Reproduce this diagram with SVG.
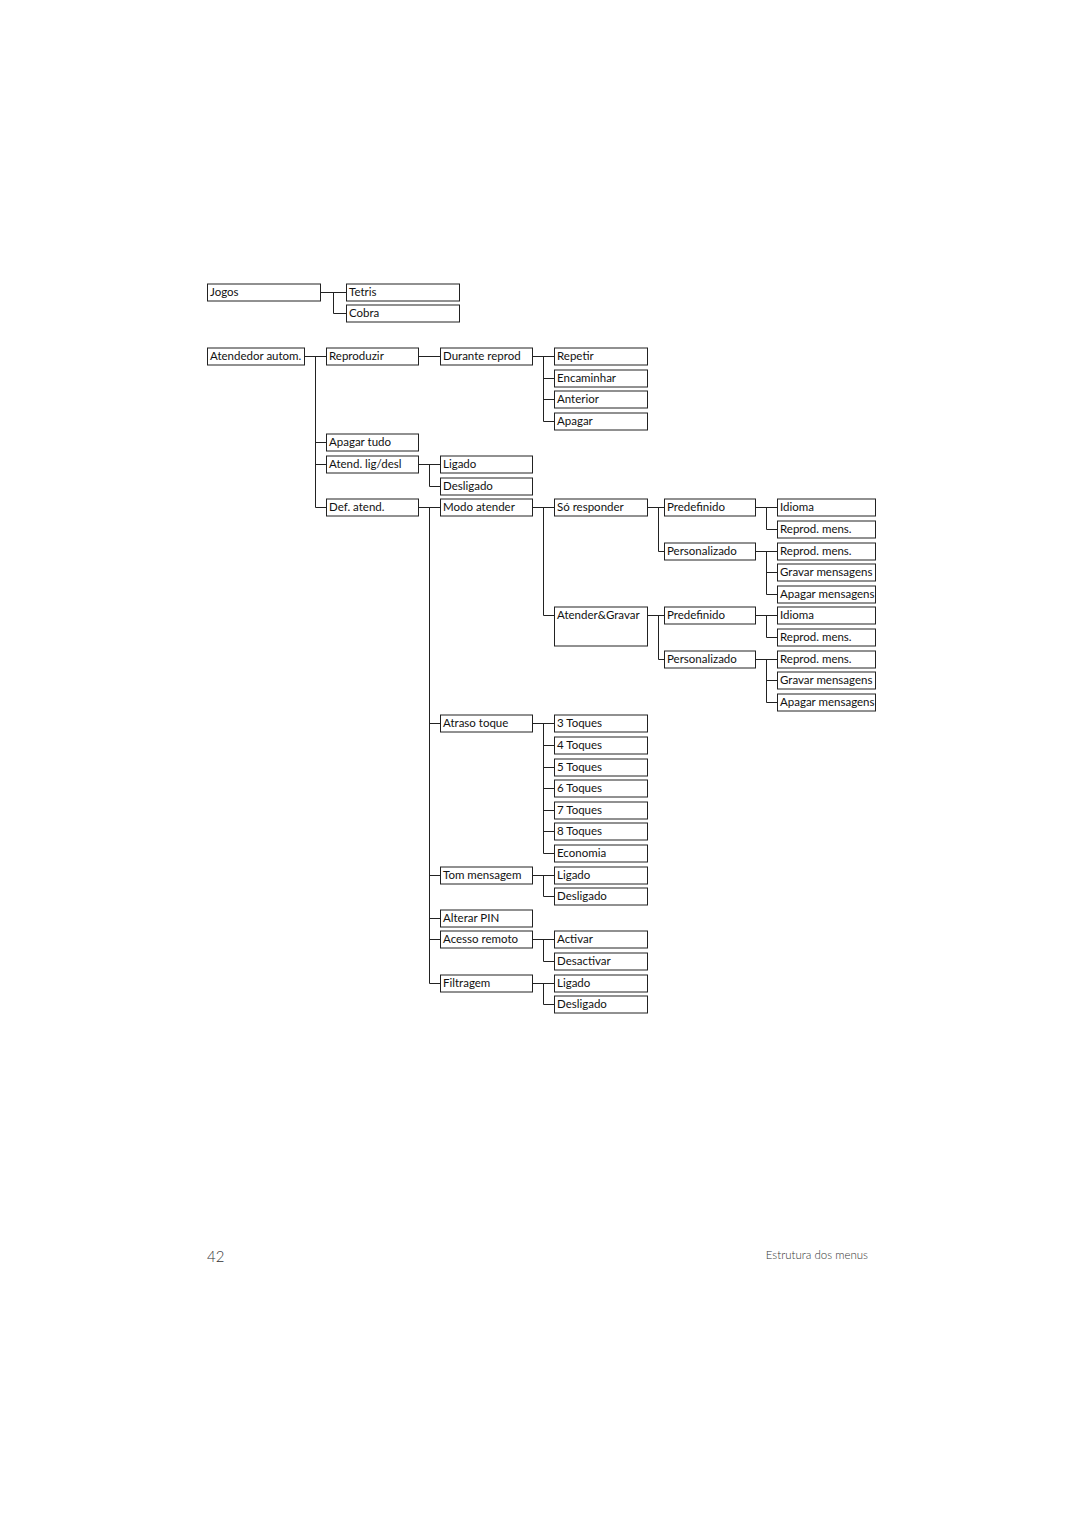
<svg xmlns="http://www.w3.org/2000/svg" width="1080" height="1528" viewBox="0 0 1080 1528">
<style>
.b{fill:#fff;stroke:#222;stroke-width:1}
.t{font-family:Lato,"Open Sans","Liberation Sans",sans-serif;font-size:11.5px;fill:#111}
.c{fill:none;stroke:#222;stroke-width:1}
.f{font-family:Lato,"Open Sans","Liberation Sans",sans-serif;fill:#333;font-weight:300}
</style>
<rect width="1080" height="1528" fill="#fff"/>
<g id="connectors" class="c">
<path d="M320 292.5H346M333.5 292.5V313.5H346"/>
<path d="M304 356.5H326M315.5 356.5V507.5H326M315.5 442.5H326M315.5 464.5H326"/>
<path d="M418 356.5H440"/>
<path d="M532 356.5H554M543.5 356.5V421.5H554M543.5 378.5H554M543.5 399.5H554"/>
<path d="M418 464.5H440M429.5 464.5V486.5H440"/>
<path d="M418 507.5H440M429.5 507.5V983.5H440M429.5 723.5H440M429.5 875.5H440M429.5 918.5H440M429.5 939.5H440"/>
<path d="M532 507.5H554M543.5 507.5V615.5H554"/>
<path d="M647 507.5H664M658.5 507.5V551.5H664"/>
<path d="M755 507.5H777M766.5 507.5V529.5H777"/>
<path d="M755 551.5H777M766.5 551.5V594.5H777M766.5 572.5H777"/>
<path d="M647 615.5H664M658.5 615.5V659.5H664"/>
<path d="M755 615.5H777M766.5 615.5V637.5H777"/>
<path d="M755 659.5H777M766.5 659.5V702.5H777M766.5 680.5H777"/>
<path d="M532 723.5H554M543.5 723.5V853.5H554M543.5 745.5H554M543.5 767.5H554M543.5 788.5H554M543.5 810.5H554M543.5 831.5H554"/>
<path d="M532 875.5H554M543.5 875.5V896.5H554"/>
<path d="M532 939.5H554M543.5 939.5V961.5H554"/>
<path d="M532 983.5H554M543.5 983.5V1004.5H554"/>
</g>
<g id="n-jogos"><rect class="b" x="207.5" y="284" width="113" height="17"/><text class="t" x="210" y="296">Jogos</text></g>
<g id="n-tetris"><rect class="b" x="346.5" y="284" width="113" height="17"/><text class="t" x="349" y="296">Tetris</text></g>
<g id="n-cobra"><rect class="b" x="346.5" y="305" width="113" height="17"/><text class="t" x="349" y="317">Cobra</text></g>
<g id="n-atendedor"><rect class="b" x="207.5" y="348" width="97" height="17"/><text class="t" x="210" y="360">Atendedor autom.</text></g>
<g id="n-reproduzir"><rect class="b" x="326.5" y="348" width="92" height="17"/><text class="t" x="329" y="360">Reproduzir</text></g>
<g id="n-durante"><rect class="b" x="440.5" y="348" width="92" height="17"/><text class="t" x="443" y="360">Durante reprod</text></g>
<g id="n-repetir"><rect class="b" x="554.5" y="348" width="93" height="17"/><text class="t" x="557" y="360">Repetir</text></g>
<g id="n-encaminhar"><rect class="b" x="554.5" y="370" width="93" height="17"/><text class="t" x="557" y="382">Encaminhar</text></g>
<g id="n-anterior"><rect class="b" x="554.5" y="391" width="93" height="17"/><text class="t" x="557" y="403">Anterior</text></g>
<g id="n-apagar"><rect class="b" x="554.5" y="413" width="93" height="17"/><text class="t" x="557" y="425">Apagar</text></g>
<g id="n-apagartudo"><rect class="b" x="326.5" y="434" width="92" height="17"/><text class="t" x="329" y="446">Apagar tudo</text></g>
<g id="n-atendlig"><rect class="b" x="326.5" y="456" width="92" height="17"/><text class="t" x="329" y="468">Atend. lig/desl</text></g>
<g id="n-ligado1"><rect class="b" x="440.5" y="456" width="92" height="17"/><text class="t" x="443" y="468">Ligado</text></g>
<g id="n-desligado1"><rect class="b" x="440.5" y="478" width="92" height="17"/><text class="t" x="443" y="490">Desligado</text></g>
<g id="n-defatend"><rect class="b" x="326.5" y="499" width="92" height="17"/><text class="t" x="329" y="511">Def. atend.</text></g>
<g id="n-modo"><rect class="b" x="440.5" y="499" width="92" height="17"/><text class="t" x="443" y="511">Modo atender</text></g>
<g id="n-soresp"><rect class="b" x="554.5" y="499" width="93" height="17"/><text class="t" x="557" y="511">Só responder</text></g>
<g id="n-predef1"><rect class="b" x="664.5" y="499" width="91" height="17"/><text class="t" x="667" y="511">Predefinido</text></g>
<g id="n-idioma1"><rect class="b" x="777.5" y="499" width="98" height="17"/><text class="t" x="780" y="511">Idioma</text></g>
<g id="n-reprod1"><rect class="b" x="777.5" y="521" width="98" height="17"/><text class="t" x="780" y="533">Reprod. mens.</text></g>
<g id="n-pers1"><rect class="b" x="664.5" y="543" width="91" height="17"/><text class="t" x="667" y="555">Personalizado</text></g>
<g id="n-reprod2"><rect class="b" x="777.5" y="543" width="98" height="17"/><text class="t" x="780" y="555">Reprod. mens.</text></g>
<g id="n-gravar1"><rect class="b" x="777.5" y="564" width="98" height="17"/><text class="t" x="780" y="576">Gravar mensagens</text></g>
<g id="n-apagarm1"><rect class="b" x="777.5" y="586" width="98" height="17"/><text class="t" x="780" y="598">Apagar mensagens</text></g>
<g id="n-atgrav"><rect class="b" x="554.5" y="607" width="93" height="39"/><text class="t" x="557" y="619">Atender&amp;Gravar</text></g>
<g id="n-predef2"><rect class="b" x="664.5" y="607" width="91" height="17"/><text class="t" x="667" y="619">Predefinido</text></g>
<g id="n-idioma2"><rect class="b" x="777.5" y="607" width="98" height="17"/><text class="t" x="780" y="619">Idioma</text></g>
<g id="n-reprod3"><rect class="b" x="777.5" y="629" width="98" height="17"/><text class="t" x="780" y="641">Reprod. mens.</text></g>
<g id="n-pers2"><rect class="b" x="664.5" y="651" width="91" height="17"/><text class="t" x="667" y="663">Personalizado</text></g>
<g id="n-reprod4"><rect class="b" x="777.5" y="651" width="98" height="17"/><text class="t" x="780" y="663">Reprod. mens.</text></g>
<g id="n-gravar2"><rect class="b" x="777.5" y="672" width="98" height="17"/><text class="t" x="780" y="684">Gravar mensagens</text></g>
<g id="n-apagarm2"><rect class="b" x="777.5" y="694" width="98" height="17"/><text class="t" x="780" y="706">Apagar mensagens</text></g>
<g id="n-atraso"><rect class="b" x="440.5" y="715" width="92" height="17"/><text class="t" x="443" y="727">Atraso toque</text></g>
<g id="n-t3"><rect class="b" x="554.5" y="715" width="93" height="17"/><text class="t" x="557" y="727">3 Toques</text></g>
<g id="n-t4"><rect class="b" x="554.5" y="737" width="93" height="17"/><text class="t" x="557" y="749">4 Toques</text></g>
<g id="n-t5"><rect class="b" x="554.5" y="759" width="93" height="17"/><text class="t" x="557" y="771">5 Toques</text></g>
<g id="n-t6"><rect class="b" x="554.5" y="780" width="93" height="17"/><text class="t" x="557" y="792">6 Toques</text></g>
<g id="n-t7"><rect class="b" x="554.5" y="802" width="93" height="17"/><text class="t" x="557" y="814">7 Toques</text></g>
<g id="n-t8"><rect class="b" x="554.5" y="823" width="93" height="17"/><text class="t" x="557" y="835">8 Toques</text></g>
<g id="n-economia"><rect class="b" x="554.5" y="845" width="93" height="17"/><text class="t" x="557" y="857">Economia</text></g>
<g id="n-tom"><rect class="b" x="440.5" y="867" width="92" height="17"/><text class="t" x="443" y="879">Tom mensagem</text></g>
<g id="n-ligado2"><rect class="b" x="554.5" y="867" width="93" height="17"/><text class="t" x="557" y="879">Ligado</text></g>
<g id="n-desligado2"><rect class="b" x="554.5" y="888" width="93" height="17"/><text class="t" x="557" y="900">Desligado</text></g>
<g id="n-pin"><rect class="b" x="440.5" y="910" width="92" height="17"/><text class="t" x="443" y="922">Alterar PIN</text></g>
<g id="n-acesso"><rect class="b" x="440.5" y="931" width="92" height="17"/><text class="t" x="443" y="943">Acesso remoto</text></g>
<g id="n-activar"><rect class="b" x="554.5" y="931" width="93" height="17"/><text class="t" x="557" y="943">Activar</text></g>
<g id="n-desactivar"><rect class="b" x="554.5" y="953" width="93" height="17"/><text class="t" x="557" y="965">Desactivar</text></g>
<g id="n-filtragem"><rect class="b" x="440.5" y="975" width="92" height="17"/><text class="t" x="443" y="987">Filtragem</text></g>
<g id="n-ligado3"><rect class="b" x="554.5" y="975" width="93" height="17"/><text class="t" x="557" y="987">Ligado</text></g>
<g id="n-desligado3"><rect class="b" x="554.5" y="996" width="93" height="17"/><text class="t" x="557" y="1008">Desligado</text></g>
<text class="f" x="207" y="1262" font-size="15">42</text>
<text class="f" x="868" y="1259" font-size="11.5" text-anchor="end">Estrutura dos menus</text>
</svg>
